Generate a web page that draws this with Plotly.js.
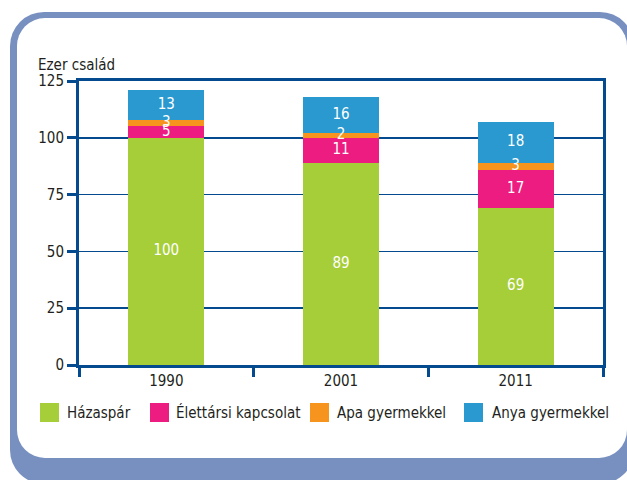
<!DOCTYPE html>
<html>
<head>
<meta charset="utf-8">
<script src="https://cdn.plot.ly/plotly-3.0.1.min.js"></script>
<style>
  html, body { margin: 0; padding: 0; background: #ffffff; }
  #wrap { position: relative; width: 627px; height: 480px; overflow: hidden; background: #ffffff; }
  #outer { position: absolute; left: 10px; top: 12px; width: 624px; height: 472px; border-radius: 34px; background: #7890c0; }
  #inner { position: absolute; left: 17px; top: 18px; width: 610px; height: 440px; border-radius: 28px; background: #ffffff; }
  #chart { position: absolute; left: 0; top: 0; width: 627px; height: 480px; }
</style>
</head>
<body>
<div id="wrap">
  <div id="outer"></div>
  <div id="inner"></div>
  <div id="chart"></div>
</div>
<script>
// ---- data ----
const years = ['1990', '2001', '2011'];
const seriesNames = ['Házaspár', 'Élettársi kapcsolat', 'Apa gyermekkel', 'Anya gyermekkel'];
const hazaspar = [100, 89, 69];
const elettarsi = [5, 11, 17];
const apa = [3, 2, 3];
const anya = [13, 16, 18];
const yTickVals = [0, 25, 50, 75, 100, 125];
const yAxisLabel = 'Ezer család';

// ---- style ----
const colors = ['#a6ce39', '#ed1c80', '#f7941d', '#2999cf'];
const axisColor = '#034a8f';
const textColor = '#231f20';
const fontFam = '"DejaVu Sans Condensed", "Liberation Sans Narrow", "Liberation Sans", sans-serif';
const fs = 15;

const L = 79, R = 24, T = 81, B = 115, W = 627, H = 480;
const pw = W - L - R, ph = H - T - B;
const px2x = p => (p - L) / pw;
const py2y = p => (H - B - p) / ph;

const seriesValues = [hazaspar, elettarsi, apa, anya];
const traces = seriesValues.map((vals, i) => ({
  type: 'bar',
  name: seriesNames[i],
  x: years,
  y: vals,
  marker: { color: colors[i], line: { width: 0 } },
  hoverinfo: 'skip',
  showlegend: false
}));

// value labels drawn on top of all bars, at each segment's middle
const labX = [], labY = [], labT = [];
const cum = years.map(() => 0);
seriesValues.forEach(vals => {
  vals.forEach((v, j) => {
    labX.push(years[j]);
    labY.push(cum[j] + v / 2);
    labT.push(String(v));
    cum[j] += v;
  });
});
traces.push({
  type: 'scatter', mode: 'text',
  x: labX, y: labY, text: labT,
  textposition: 'middle center',
  textfont: { color: '#ffffff', size: fs, family: fontFam },
  cliponaxis: false, hoverinfo: 'skip', showlegend: false
});

// custom legend
const legendBoxX = [40, 150, 310, 464];
const legendTextX = [66, 175, 336, 491];
const shapes = [];
const annotations = [];
seriesNames.forEach((n, i) => {
  shapes.push({
    type: 'rect', xref: 'paper', yref: 'paper',
    x0: px2x(legendBoxX[i]), x1: px2x(legendBoxX[i] + 19),
    y0: py2y(422), y1: py2y(403),
    fillcolor: colors[i], line: { width: 0 }, layer: 'above'
  });
  annotations.push({
    xref: 'paper', yref: 'paper',
    x: px2x(legendTextX[i] - 1), y: py2y(412.5),
    xanchor: 'left', yanchor: 'middle',
    text: n, showarrow: false,
    font: { family: fontFam, size: fs, color: textColor }
  });
});
annotations.push({
  xref: 'paper', yref: 'paper',
  x: px2x(36), y: py2y(65),
  xanchor: 'left', yanchor: 'middle',
  text: yAxisLabel, showarrow: false,
  font: { family: fontFam, size: fs, color: textColor }
});

const layout = {
  width: W, height: H,
  margin: { l: L, r: R, t: T, b: B, pad: 0 },
  paper_bgcolor: 'rgba(0,0,0,0)',
  plot_bgcolor: 'rgba(0,0,0,0)',
  barmode: 'stack',
  bargap: 0.566,
  showlegend: false,
  font: { family: fontFam, size: fs, color: textColor },
  xaxis: {
    type: 'category',
    tickson: 'boundaries',
    ticks: 'outside', ticklen: 9, tickwidth: 3, tickcolor: axisColor,
    showline: true, linecolor: axisColor, linewidth: 3, mirror: true,
    showgrid: false, zeroline: false,
    tickfont: { family: fontFam, size: fs, color: textColor },
    fixedrange: true
  },
  yaxis: {
    range: [0, 125],
    tickvals: yTickVals,
    ticktext: yTickVals.map(String),
    ticks: 'outside', ticklen: 9, tickwidth: 3, tickcolor: axisColor,
    showline: true, linecolor: axisColor, linewidth: 3, mirror: true,
    showgrid: true, gridcolor: axisColor, gridwidth: 1.5,
    zeroline: false,
    tickfont: { family: fontFam, size: fs, color: textColor },
    fixedrange: true
  },
  shapes: shapes,
  annotations: annotations
};

Plotly.newPlot('chart', traces, layout, { displayModeBar: false, staticPlot: true });
</script>
</body>
</html>
